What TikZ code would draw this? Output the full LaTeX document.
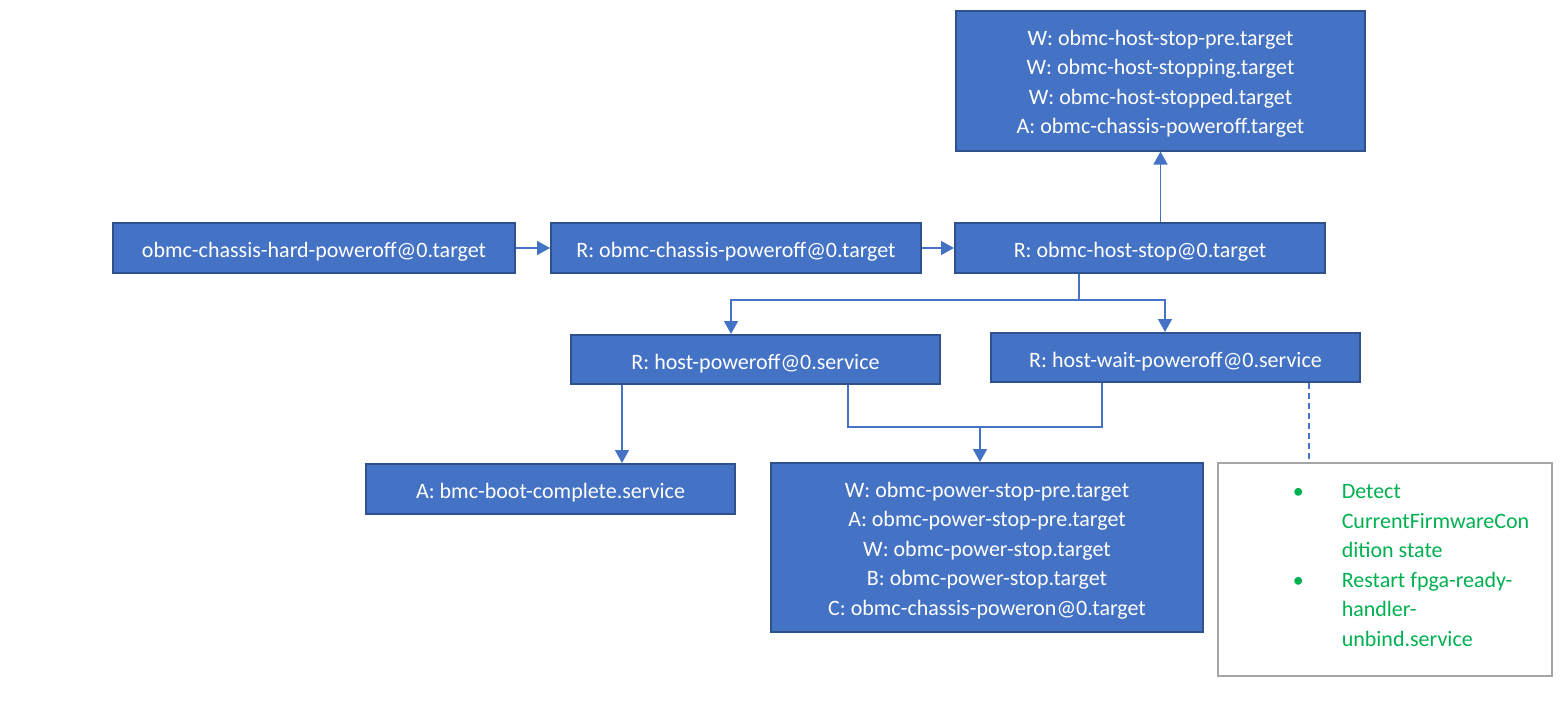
\documentclass[tikz,border=0pt]{standalone}
\usepackage{fontspec}
\setmainfont{Carlito}
\usetikzlibrary{arrows.meta, positioning}
\definecolor{boxblue}{HTML}{4472C4}
\definecolor{boxedge}{HTML}{2F528F}
\definecolor{notegray}{HTML}{A5A5A5}
\definecolor{notegreen}{HTML}{00B050}

\begin{document}
\begin{tikzpicture}[x=1pt, y=-1pt, node distance=36pt,
		every node/.style={font=\fontsize{22}{29.5}\selectfont},
		unit/.style={draw=boxedge, line width=2pt, fill=boxblue, text=white,
			inner sep=0pt, minimum height=50pt},
		single/.style={unit, text height=21pt, text depth=2pt},
		stack/.style={unit, align=center},
		link/.style={draw=boxblue, line width=1.5pt},
		arr/.style={link, -{Triangle[width=14pt, length=13pt]}}]

			\useasboundingbox (0,0) rectangle (1565,720);

			% Chain of targets
			\node (hardoff) [single, minimum width=402pt] at (314,248) {obmc-chassis-hard-poweroff@0.target};
			\node (chassisoff) [single, minimum width=370pt, right=34pt of hardoff] {R: obmc-chassis-poweroff@0.target};
			\node (hoststop) [single, minimum width=370pt, right=32pt of chassisoff] {R: obmc-host-stop@0.target};

			% Targets pulled in by host stop
			\node (hostwants) [stack, minimum width=409pt, minimum height=140pt] at (1160.5,80.5)
				{\rule{0pt}{21.5pt}W: obmc-host-stop-pre.target\\W: obmc-host-stopping.target\\W: obmc-host-stopped.target\\A: obmc-chassis-poweroff.target};

			% Services
			\node (hostoff) [single, minimum width=369pt, minimum height=49pt] at (755.5,359.5) {R: host-poweroff@0.service};
			\node (hostwait) [single, minimum width=369pt, minimum height=49pt] at (1175.5,357.5) {R: host-wait-poweroff@0.service};
			\node (bmcboot) [single, minimum width=369pt] at (550.5,489) {A: bmc-boot-complete.service};
			\node (powerstop) [stack, minimum width=432pt, minimum height=169pt] at (987,547.5)
				{\rule{0pt}{21.5pt}W: obmc-power-stop-pre.target\\A: obmc-power-stop-pre.target\\W: obmc-power-stop.target\\B: obmc-power-stop.target\\C: obmc-chassis-poweron@0.target};

			% Note box
			\node (note) [draw=notegray, line width=1.5pt, text=notegreen, inner sep=0pt,
				minimum width=334pt, minimum height=213pt] at (1385,569.5)
				{\begin{tabular}{@{\hspace{52pt}}p{49pt}@{}l@{}}
					\textbullet & Detect\\
					 & CurrentFirmwareCon\\
					 & dition state\\
					\textbullet & Restart fpga-ready-\\
					 & handler-\\
					 & unbind.service\\[6pt]
				\end{tabular}};

			% Junctions
			\coordinate (split) at (1079,300);
			\coordinate (merge) at (980,427);

			% Arrows
			\draw[arr] (hardoff) -- (chassisoff);
			\draw[arr] (chassisoff) -- (hoststop);
			\draw[arr] (hoststop.north -| hostwants.south) -- (hostwants.south);
			\draw[link] (hoststop.south -| split) -- (split);
			\draw[arr] (split) -| ([xshift=-24.5pt]hostoff.north);
			\draw[arr] (split) -| ([xshift=-10.5pt]hostwait.north);
			\draw[arr] ([xshift=-133.5pt]hostoff.south) -- ([xshift=-133.5pt]hostoff.south |- bmcboot.north);
			\draw[link] ([xshift=92.5pt]hostoff.south) |- (merge) -| ([xshift=-73.5pt]hostwait.south);
			\draw[arr] (merge) -- (merge |- powerstop.north);
			\draw[link, dash pattern=on 6pt off 4pt] ([xshift=133.5pt]hostwait.south) -- ([xshift=133.5pt]hostwait.south |- note.north);

		\end{tikzpicture}
\end{document}
